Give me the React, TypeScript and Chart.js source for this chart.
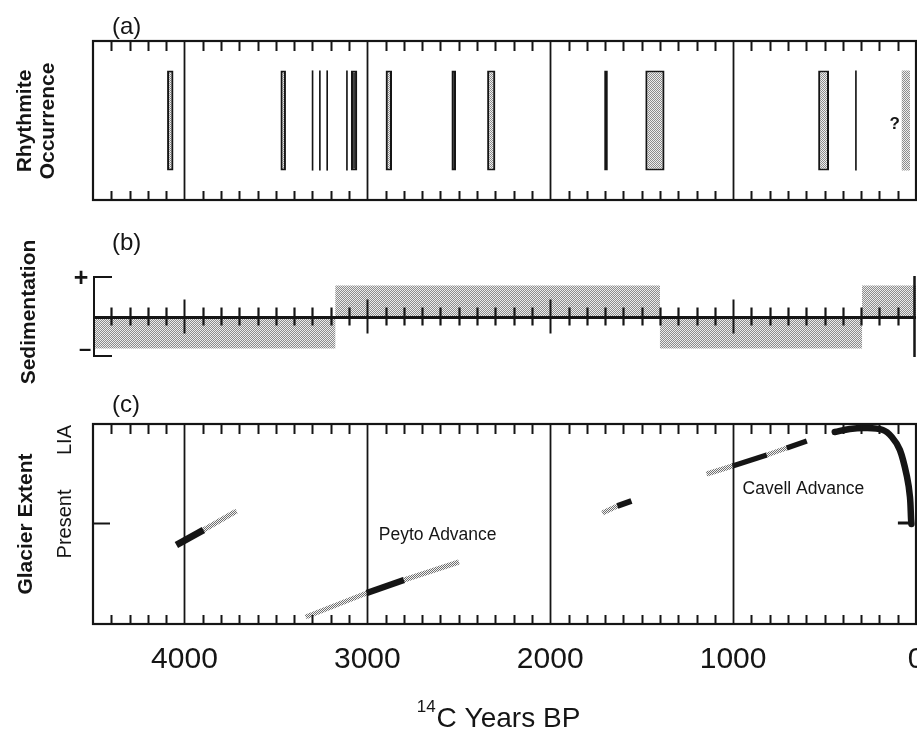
import React, { useEffect, useRef } from 'react';
import { Chart, registerables } from 'chart.js';
Chart.register(...registerables);

const FONT = "'Liberation Sans', Arial, Helvetica, sans-serif";
const INK = '#151515';

// shared time axis (14C years BP)
const yearMin = 0;
const yearMax = 4500;
const yearStep = 100;
const majorEvery = 1000;
const xLabelValues = [4000, 3000, 2000, 1000, 0];
const xLabelTexts = ['4000', '3000', '2000', '1000', '0'];

// (a) rhythmite occurrence: [older, younger] years BP
const rhythmOutlined = [[4095, 4060], [3475, 3445], [2900, 2865], [2345, 2300], [1480, 1375], [535, 475]];
const rhythmDark = [[3090, 3055], [2540, 2515], [1705, 1685]];
const rhythmThin = [[3304, 3295], [3264, 3255], [3224, 3215], [3116, 3107], [333, 324]];
const rhythmUncertain = [[78, 33]];

// (b) sedimentation (step changes, sign only)
const sedYears = [4500, 3175, 1400, 295, 0];
const sedValues = [-1, 1, -1, 1, 1];
const sedMin = -1.27;
const sedMax = 1.3;
const sedTickLabels = ['+', '–'];

// (c) glacier extent: [year BP, relative extent] (Present = 0, LIA ~ 0.84)
const glacierTickValues = [0, 0.84];
const glacierTickLabels = ['Present', 'LIA'];
const seg4000Solid = [[4044, -0.21], [3896, -0.06]];
const seg4000Stipple = [[3896, -0.06], [3715, 0.13]];
const peytoStippleOld = [[3337, -0.93], [3003, -0.69]];
const peytoSolid = [[3003, -0.69], [2800, -0.56]];
const peytoStippleYoung = [[2800, -0.56], [2499, -0.38]];
const seg1600Stipple = [[1715, 0.11], [1633, 0.18]];
const seg1600Solid = [[1633, 0.18], [1556, 0.23]];
const cavellStipple1 = [[1145, 0.5], [1003, 0.58]];
const cavellSolid1 = [[1003, 0.58], [816, 0.69]];
const cavellStipple2 = [[816, 0.69], [707, 0.76]];
const cavellSolid2 = [[707, 0.76], [597, 0.83]];
const liaCurve = [[444, 0.92], [362, 0.95], [279, 0.96], [181, 0.94], [132, 0.87], [88, 0.74], [49, 0.47], [33, 0.27], [27, 0.05], [25, 0.0]];
const liaHook = [[22, 0.01], [99, 0.01]];
const peytoLabelAt = [2937, -0.11];
const cavellLabelAt = [948, 0.35];

function makePattern(ctx: CanvasRenderingContext2D, dark: string, light: string) {
  const c = document.createElement('canvas');
  c.width = 2;
  c.height = 2;
  const p = c.getContext('2d')!;
  p.fillStyle = light;
  p.fillRect(0, 0, 2, 2);
  p.fillStyle = dark;
  p.fillRect(0, 0, 1, 1);
  p.fillRect(1, 1, 1, 1);
  return ctx.createPattern(c, 'repeat')!;
}

function vText(ctx: CanvasRenderingContext2D, text: string, x: number, y: number, font: string) {
  ctx.save();
  ctx.translate(x, y);
  ctx.rotate(-Math.PI / 2);
  ctx.font = font;
  ctx.textAlign = 'center';
  ctx.textBaseline = 'middle';
  ctx.fillText(text, 0, 0);
  ctx.restore();
}

function tickValues(): number[] {
  const out: number[] = [];
  for (let v = yearMin + yearStep; v < yearMax; v += yearStep) out.push(v);
  return out;
}

function drawBoxTicks(ctx: CanvasRenderingContext2D, scale: any, a: any) {
  for (const v of tickValues()) {
    const px = Math.round(scale.getPixelForValue(v)) + 0.5;
    ctx.beginPath();
    if (v % majorEvery === 0) {
      ctx.lineWidth = 1.8;
      ctx.moveTo(px, a.top);
      ctx.lineTo(px, a.bottom);
    } else {
      ctx.lineWidth = 2;
      ctx.moveTo(px, a.top);
      ctx.lineTo(px, a.top + 10);
      ctx.moveTo(px, a.bottom);
      ctx.lineTo(px, a.bottom - 9);
    }
    ctx.stroke();
  }
}

function baseOptions(padding: any, yScale: any, extra: any = {}) {
  return {
    responsive: true,
    maintainAspectRatio: false,
    animation: false as const,
    events: [],
    layout: { padding },
    plugins: { legend: { display: false }, tooltip: { enabled: false }, title: { display: false } },
    scales: {
      x: { type: 'linear', min: yearMin, max: yearMax, reverse: true, display: false, ticks: { stepSize: yearStep } },
      y: yScale,
    },
    ...extra,
  };
}

function buildA(canvas: HTMLCanvasElement) {
  const ctx = canvas.getContext('2d')!;
  const stip = makePattern(ctx, '#8c8c8c', '#eeeeee');
  const ds = (arr: number[][], bg: any, bw: number) => ({
    data: arr.map((r) => ({ x: r, y: 'R' })),
    backgroundColor: bg,
    borderColor: INK,
    borderWidth: bw,
    borderSkipped: false,
    grouped: false,
    categoryPercentage: 0.63,
    barPercentage: 1,
  });
  const plugin = {
    id: 'panelA',
    afterDatasetsDraw(chart: any) {
      const { ctx: c, chartArea: a } = chart;
      const x = chart.scales.x;
      c.save();
      c.strokeStyle = INK;
      c.fillStyle = INK;
      c.lineWidth = 2.2;
      c.strokeRect(a.left, a.top, a.right - a.left, a.bottom - a.top);
      drawBoxTicks(c, x, a);
      c.font = `24px ${FONT}`;
      c.textAlign = 'left';
      c.textBaseline = 'middle';
      c.fillText('(a)', 112, 27);
      c.font = `bold 17px ${FONT}`;
      c.textAlign = 'center';
      c.fillText('?', x.getPixelForValue(rhythmUncertain[0][0]) - 7, (a.top + a.bottom) / 2 + 4);
      vText(c, 'Rhythmite', 25, 121, `bold 21px ${FONT}`);
      vText(c, 'Occurrence', 48, 121, `bold 21px ${FONT}`);
      c.restore();
    },
  };
  return new Chart(canvas, {
    type: 'bar',
    data: {
      labels: ['R'],
      datasets: [
        ds(rhythmThin, INK, 0),
        ds(rhythmDark, '#3a3a3a', 2.2),
        ds(rhythmOutlined, stip, 2.2),
        ds(rhythmUncertain, stip, 0),
      ],
    },
    options: baseOptions({ left: 93, right: 1, top: 41, bottom: 15 }, { type: 'category', labels: ['R'], display: false, offset: true }, { indexAxis: 'y' }) as any,
    plugins: [plugin],
  } as any);
}

function buildB(canvas: HTMLCanvasElement) {
  const ctx = canvas.getContext('2d')!;
  const stip = makePattern(ctx, '#8c8c8c', '#ececec');
  const plugin = {
    id: 'panelB',
    afterDatasetsDraw(chart: any) {
      const { ctx: c, chartArea: a } = chart;
      const x = chart.scales.x;
      const y = chart.scales.y;
      const y0 = Math.round(y.getPixelForValue(0)) + 0.5;
      c.save();
      c.strokeStyle = INK;
      c.fillStyle = INK;
      // zero line
      c.lineWidth = 3;
      c.beginPath();
      c.moveTo(a.left, y0);
      c.lineTo(a.right, y0);
      c.stroke();
      for (const v of tickValues()) {
        const px = Math.round(x.getPixelForValue(v)) + 0.5;
        c.beginPath();
        if (v % majorEvery === 0) {
          c.lineWidth = 2;
          c.moveTo(px, y0 - 18);
          c.lineTo(px, y0 + 16);
        } else {
          c.lineWidth = 2.2;
          c.moveTo(px, y0 - 10);
          c.lineTo(px, y0 + 8);
        }
        c.stroke();
      }
      // bracket on the left
      const yt = y.getPixelForValue(sedMax);
      const yb = y.getPixelForValue(sedMin);
      c.lineWidth = 2;
      c.beginPath();
      c.moveTo(a.left + 19, yt + 1);
      c.lineTo(a.left + 1, yt + 1);
      c.lineTo(a.left + 1, yb - 1);
      c.lineTo(a.left + 19, yb - 1);
      c.stroke();
      // right end
      c.lineWidth = 2.5;
      c.beginPath();
      c.moveTo(a.right - 1.5, yt);
      c.lineTo(a.right - 1.5, yb);
      c.stroke();
      c.font = `bold 25px ${FONT}`;
      c.textAlign = 'center';
      c.textBaseline = 'middle';
      c.fillText(sedTickLabels[0], 81, yt + 3);
      c.font = `bold 22px ${FONT}`;
      c.fillText(sedTickLabels[1], 85, yb - 7);
      c.font = `24px ${FONT}`;
      c.textAlign = 'left';
      c.fillText('(b)', 112, 28);
      vText(c, 'Sedimentation', 29, 97, `bold 21px ${FONT}`);
      c.restore();
    },
  };
  return new Chart(canvas, {
    type: 'line',
    data: {
      datasets: [
        {
          data: sedYears.map((yr, i) => ({ x: yr, y: sedValues[i] })),
          stepped: true,
          fill: 'origin',
          backgroundColor: stip,
          borderColor: 'rgba(0,0,0,0)',
          borderWidth: 1,
          pointRadius: 0,
        },
      ],
    },
    options: baseOptions({ left: 93, right: 1, top: 61, bottom: 53 }, { type: 'linear', min: sedMin, max: sedMax, display: false }) as any,
    plugins: [plugin],
  } as any);
}

function buildC(canvas: HTMLCanvasElement) {
  const ctx = canvas.getContext('2d')!;
  const stip = makePattern(ctx, '#6e6e6e', '#f4f4f4');
  const pts = (arr: number[][]) => arr.map((p) => ({ x: p[0], y: p[1] }));
  const solid = (arr: number[][], w: number, extra: any = {}) => ({
    data: pts(arr),
    showLine: true,
    borderColor: INK,
    borderWidth: w,
    pointRadius: 0,
    borderCapStyle: 'butt',
    ...extra,
  });
  const stipple = (arr: number[][], w: number) => ({
    data: pts(arr),
    showLine: true,
    borderColor: stip,
    borderWidth: w,
    pointRadius: 0,
    borderCapStyle: 'butt',
  });
  const plugin = {
    id: 'panelC',
    afterDatasetsDraw(chart: any) {
      const { ctx: c, chartArea: a } = chart;
      const x = chart.scales.x;
      const y = chart.scales.y;
      c.save();
      c.strokeStyle = INK;
      c.fillStyle = INK;
      c.lineWidth = 2.2;
      c.strokeRect(a.left, a.top, a.right - a.left, a.bottom - a.top);
      drawBoxTicks(c, x, a);
      // Present tick
      const yp = Math.round(y.getPixelForValue(glacierTickValues[0])) - 0.5;
      c.lineWidth = 2;
      c.beginPath();
      c.moveTo(a.left, yp);
      c.lineTo(a.left + 17, yp);
      c.stroke();
      glacierTickValues.forEach((v, i) => {
        vText(c, glacierTickLabels[i], 65, y.getPixelForValue(v), `20px ${FONT}`);
      });
      vText(c, 'Glacier Extent', 26, 144, `bold 21px ${FONT}`);
      c.font = `24px ${FONT}`;
      c.textAlign = 'left';
      c.textBaseline = 'middle';
      c.fillText('(c)', 112, 25);
      c.font = `17.5px ${FONT}`;
      c.fillText('Peyto Advance', x.getPixelForValue(peytoLabelAt[0]), y.getPixelForValue(peytoLabelAt[1]));
      c.fillText('Cavell Advance', x.getPixelForValue(cavellLabelAt[0]), y.getPixelForValue(cavellLabelAt[1]));
      // x tick labels
      c.font = `30px ${FONT}`;
      c.textAlign = 'center';
      c.textBaseline = 'alphabetic';
      xLabelValues.forEach((v, i) => {
        c.fillText(xLabelTexts[i], x.getPixelForValue(v), 288);
      });
      // axis title with superscript
      const supFont = `17px ${FONT}`;
      const mainFont = `28px ${FONT}`;
      c.font = supFont;
      const wSup = c.measureText('14').width;
      c.font = mainFont;
      const wMain = c.measureText('C Years BP').width;
      const start = (a.left + a.right) / 2 - 6 - (wSup + 1 + wMain) / 2;
      c.textAlign = 'left';
      c.font = supFont;
      c.fillText('14', start, 332);
      c.font = mainFont;
      c.fillText('C Years BP', start + wSup + 1, 347);
      c.restore();
    },
  };
  return new Chart(canvas, {
    type: 'scatter',
    data: {
      datasets: [
        solid(seg4000Solid, 7),
        solid(peytoSolid, 6.5),
        solid(seg1600Solid, 6),
        solid(cavellSolid1, 5.5),
        solid(cavellSolid2, 5.5),
        solid(liaCurve, 6.5, { tension: 0.35, borderCapStyle: 'round' }),
        solid(liaHook, 3),
        stipple(seg4000Stipple, 5),
        stipple(peytoStippleOld, 5),
        stipple(peytoStippleYoung, 5),
        stipple(seg1600Stipple, 5),
        stipple(cavellStipple1, 5),
        stipple(cavellStipple2, 5),
      ],
    },
    options: baseOptions({ left: 93, right: 1, top: 44, bottom: 105 }, { type: 'linear', min: -1, max: 1, display: false }) as any,
    plugins: [plugin],
  } as any);
}

export default function App() {
  const refA = useRef<HTMLCanvasElement>(null);
  const refB = useRef<HTMLCanvasElement>(null);
  const refC = useRef<HTMLCanvasElement>(null);
  useEffect(() => {
    const charts = [buildA(refA.current!), buildB(refB.current!), buildC(refC.current!)];
    return () => charts.forEach((ch) => ch.destroy());
  }, []);
  const box = (top: number, height: number): React.CSSProperties => ({ position: 'absolute', left: 0, top, width: 917, height });
  return (
    <div style={{ position: 'absolute', left: 0, top: 0, width: 917, height: 729, background: '#fff', overflow: 'hidden' }}>
      <div style={box(0, 215)}>
        <canvas ref={refA} />
      </div>
      <div style={box(215, 195)}>
        <canvas ref={refB} />
      </div>
      <div style={box(380, 349)}>
        <canvas ref={refC} />
      </div>
    </div>
  );
}
